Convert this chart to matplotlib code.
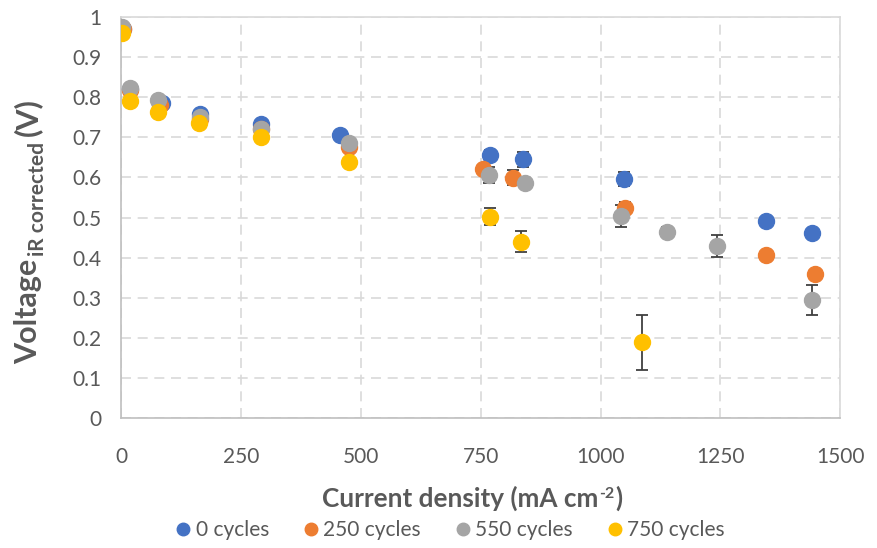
import matplotlib
matplotlib.use("Agg")
import matplotlib.pyplot as plt
from matplotlib.lines import Line2D
from matplotlib.transforms import IdentityTransform

plt.rcParams['font.family'] = ['Lato', 'DejaVu Sans']

# data
labels = ['0 cycles', '250 cycles', '550 cycles', '750 cycles']
colors = ['#4472C4', '#ED7D31', '#A5A5A5', '#FFC000']

x0 = [3, 19, 85, 165, 291, 456, 769, 838, 1048, 1346, 1442]
y0 = [0.97, 0.82, 0.785, 0.757, 0.733, 0.706, 0.656, 0.645, 0.596, 0.491, 0.461]
e0 = [0.005, 0.008, 0.008, 0.008, 0.008, 0.008, 0.012, 0.019, 0.017, 0.008, 0.008]

x250 = [3, 19, 80, 165, 291, 475, 754, 817, 1052, 1346, 1448]
y250 = [0.97, 0.818, 0.78, 0.745, 0.72, 0.677, 0.62, 0.599, 0.523, 0.406, 0.359]
e250 = [0.005, 0.008, 0.008, 0.008, 0.008, 0.008, 0.01, 0.019, 0.015, 0.008, 0.008]

x550 = [2, 19, 77, 165, 291, 475, 767, 842, 1042, 1138, 1242, 1442]
y550 = [0.976, 0.822, 0.793, 0.75, 0.72, 0.687, 0.606, 0.585, 0.504, 0.465, 0.429, 0.294]
e550 = [0.005, 0.008, 0.008, 0.008, 0.008, 0.008, 0.019, 0.008, 0.027, 0.012, 0.027, 0.037]

x750 = [2, 19, 77, 163, 291, 475, 769, 835, 1087]
y750 = [0.959, 0.79, 0.764, 0.736, 0.70, 0.639, 0.502, 0.44, 0.189]
e750 = [0.005, 0.008, 0.008, 0.008, 0.008, 0.008, 0.021, 0.026, 0.069]

xs = [x0, x250, x550, x750]
ys = [y0, y250, y550, y750]
es = [e0, e250, e550, e750]

fig = plt.figure(figsize=(8.78, 5.48), dpi=100)
ax = fig.add_axes([0.138, 0.237, 0.819, 0.732])

for x, y, e, c, lab in zip(xs, ys, es, colors, labels):
    ax.errorbar(x, y, yerr=e, fmt='o', color=c, markersize=11.5, ecolor='#404040',
                elinewidth=1.3, capsize=4, capthick=1.3, label=lab, zorder=3)

ax.set_xlim(0, 1500)
ax.set_ylim(0, 1)
ax.set_xticks(range(0, 1501, 250))
ax.set_yticks([i / 10 for i in range(11)])
ax.set_yticklabels(['0'] + ['0.' + str(i) for i in range(1, 10)] + ['1'])
ax.grid(True, color='#D9D9D9', linestyle=(0, (6, 4)), linewidth=1.2)
ax.set_axisbelow(True)
for s in ax.spines.values():
    s.set_color('#D9D9D9')
    s.set_linewidth(1.2)
ax.spines['left'].set_color('#BFBFBF')
ax.spines['bottom'].set_color('#BFBFBF')
ax.tick_params(length=0, labelsize=15, labelcolor='#595959', pad=14)
ax.tick_params(axis='x', pad=21)

# axis titles are built from pieces so the sub/superscripts stay bold
r = fig.canvas.get_renderer()

def place(parts, cx, cy, vertical):
    # parts: (text, fontsize, baseline shift in px, gap before in px)
    ts, lens = [], []
    for s, fs, off, gap in parts:
        t = fig.text(0, 0, s, fontsize=fs, fontweight='bold', color='#595959',
                     transform=IdentityTransform(), rotation=90 if vertical else 0,
                     rotation_mode='anchor', ha='left', va='baseline')
        bb = t.get_window_extent(r)
        ts.append(t)
        lens.append(gap + (bb.height if vertical else bb.width))
    pos = (cy if vertical else cx) - sum(lens) / 2
    for t, p, L in zip(ts, parts, lens):
        pos += p[3]
        if vertical:
            t.set_position((cx + p[2], pos))
        else:
            t.set_position((pos, cy + p[2]))
        pos += L - p[3]

place([('Current density (mA cm', 18.8, 0, 0), ('-2', 11.5, 9, 1), (')', 18.8, 0, 1)],
      472, 41, False)
place([('Voltage', 22, 0, 0), ('iR corrected', 15, 7, 2), ('(V)', 22, 0, 6)],
      37, 317, True)

handles = [Line2D([], [], marker='o', linestyle='none', color=c, markersize=9) for c in colors]
fig.legend(handles, labels, loc='center', bbox_to_anchor=(0.51, 0.033), ncol=4,
           frameon=False, fontsize=15, labelcolor='#595959', handletextpad=0.0,
           handlelength=1.2, columnspacing=1.4)

fig.savefig('out.png', dpi=100)
